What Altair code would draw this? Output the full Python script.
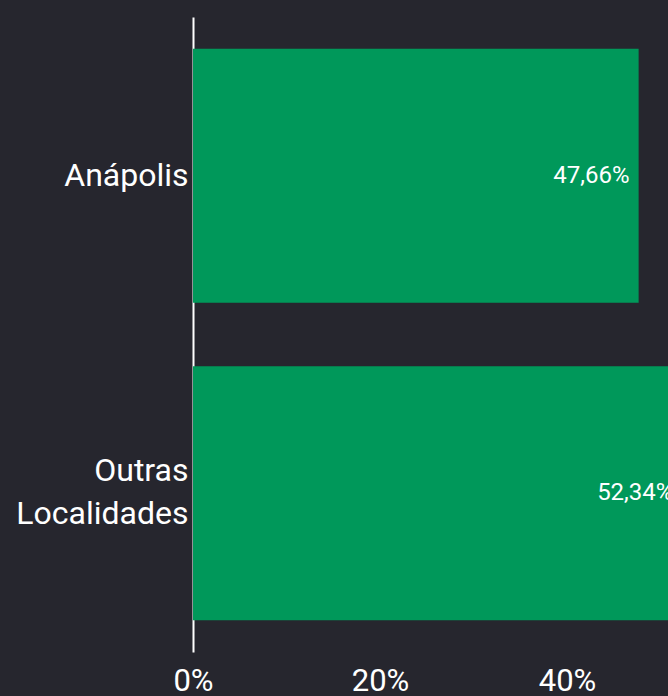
import altair as alt
import pandas as pd

categories = ["Anápolis", "Outras Localidades"]
values = [47.66, 52.34]
labels = [f"{v:.2f}".replace(".", ",") + "%" for v in values]
x_ticks = [0, 20, 40]

df = pd.DataFrame({"cat": categories, "val": values, "label": labels})

BG = "#26262e"
GREEN = "#00985a"
FONT = "Roboto"

base = alt.Chart(df).encode(
    y=alt.Y(
        "cat:N",
        sort=categories,
        title=None,
        scale=alt.Scale(paddingInner=0.2, paddingOuter=0.1),
        axis=alt.Axis(
            domain=True,
            domainColor="white",
            domainWidth=2,
            ticks=False,
            grid=False,
            labelColor="white",
            labelFont=FONT,
            labelFontSize=32,
            labelPadding=5,
            labelLineHeight=43,
            labelExpr="split(datum.label, ' ')",
            labelOffset={"condition": {"test": "datum.value == 'Outras Localidades'", "value": -22}, "value": 0},
            minExtent=193,
            maxExtent=193,
        ),
    ),
)

bars = base.mark_bar(color=GREEN, clip=True).encode(
    x=alt.X(
        "val:Q",
        title=None,
        scale=alt.Scale(domain=[0, 50.8], nice=False, zero=True),
        axis=alt.Axis(
            values=x_ticks,
            domain=False,
            ticks=False,
            grid=False,
            labelColor="white",
            labelFont=FONT,
            labelFontSize=31,
            labelPadding=14,
            labelExpr="datum.value + '%'",
            labelFlush=False,
        ),
    )
)

text = base.mark_text(
    align="right", baseline="middle", dx=-9, color="white",
    font=FONT, fontSize=24, clip=True,
).encode(x="val:Q", text="label:N")

chart = (
    alt.layer(bars, text)
    .properties(
        width=475,
        height=635,
        background=BG,
        padding={"left": 0, "top": 17, "right": 0, "bottom": 0},
    )
    .configure_view(stroke=None)
)

chart.save("out.html", embed_options={"renderer": "svg", "actions": False})
